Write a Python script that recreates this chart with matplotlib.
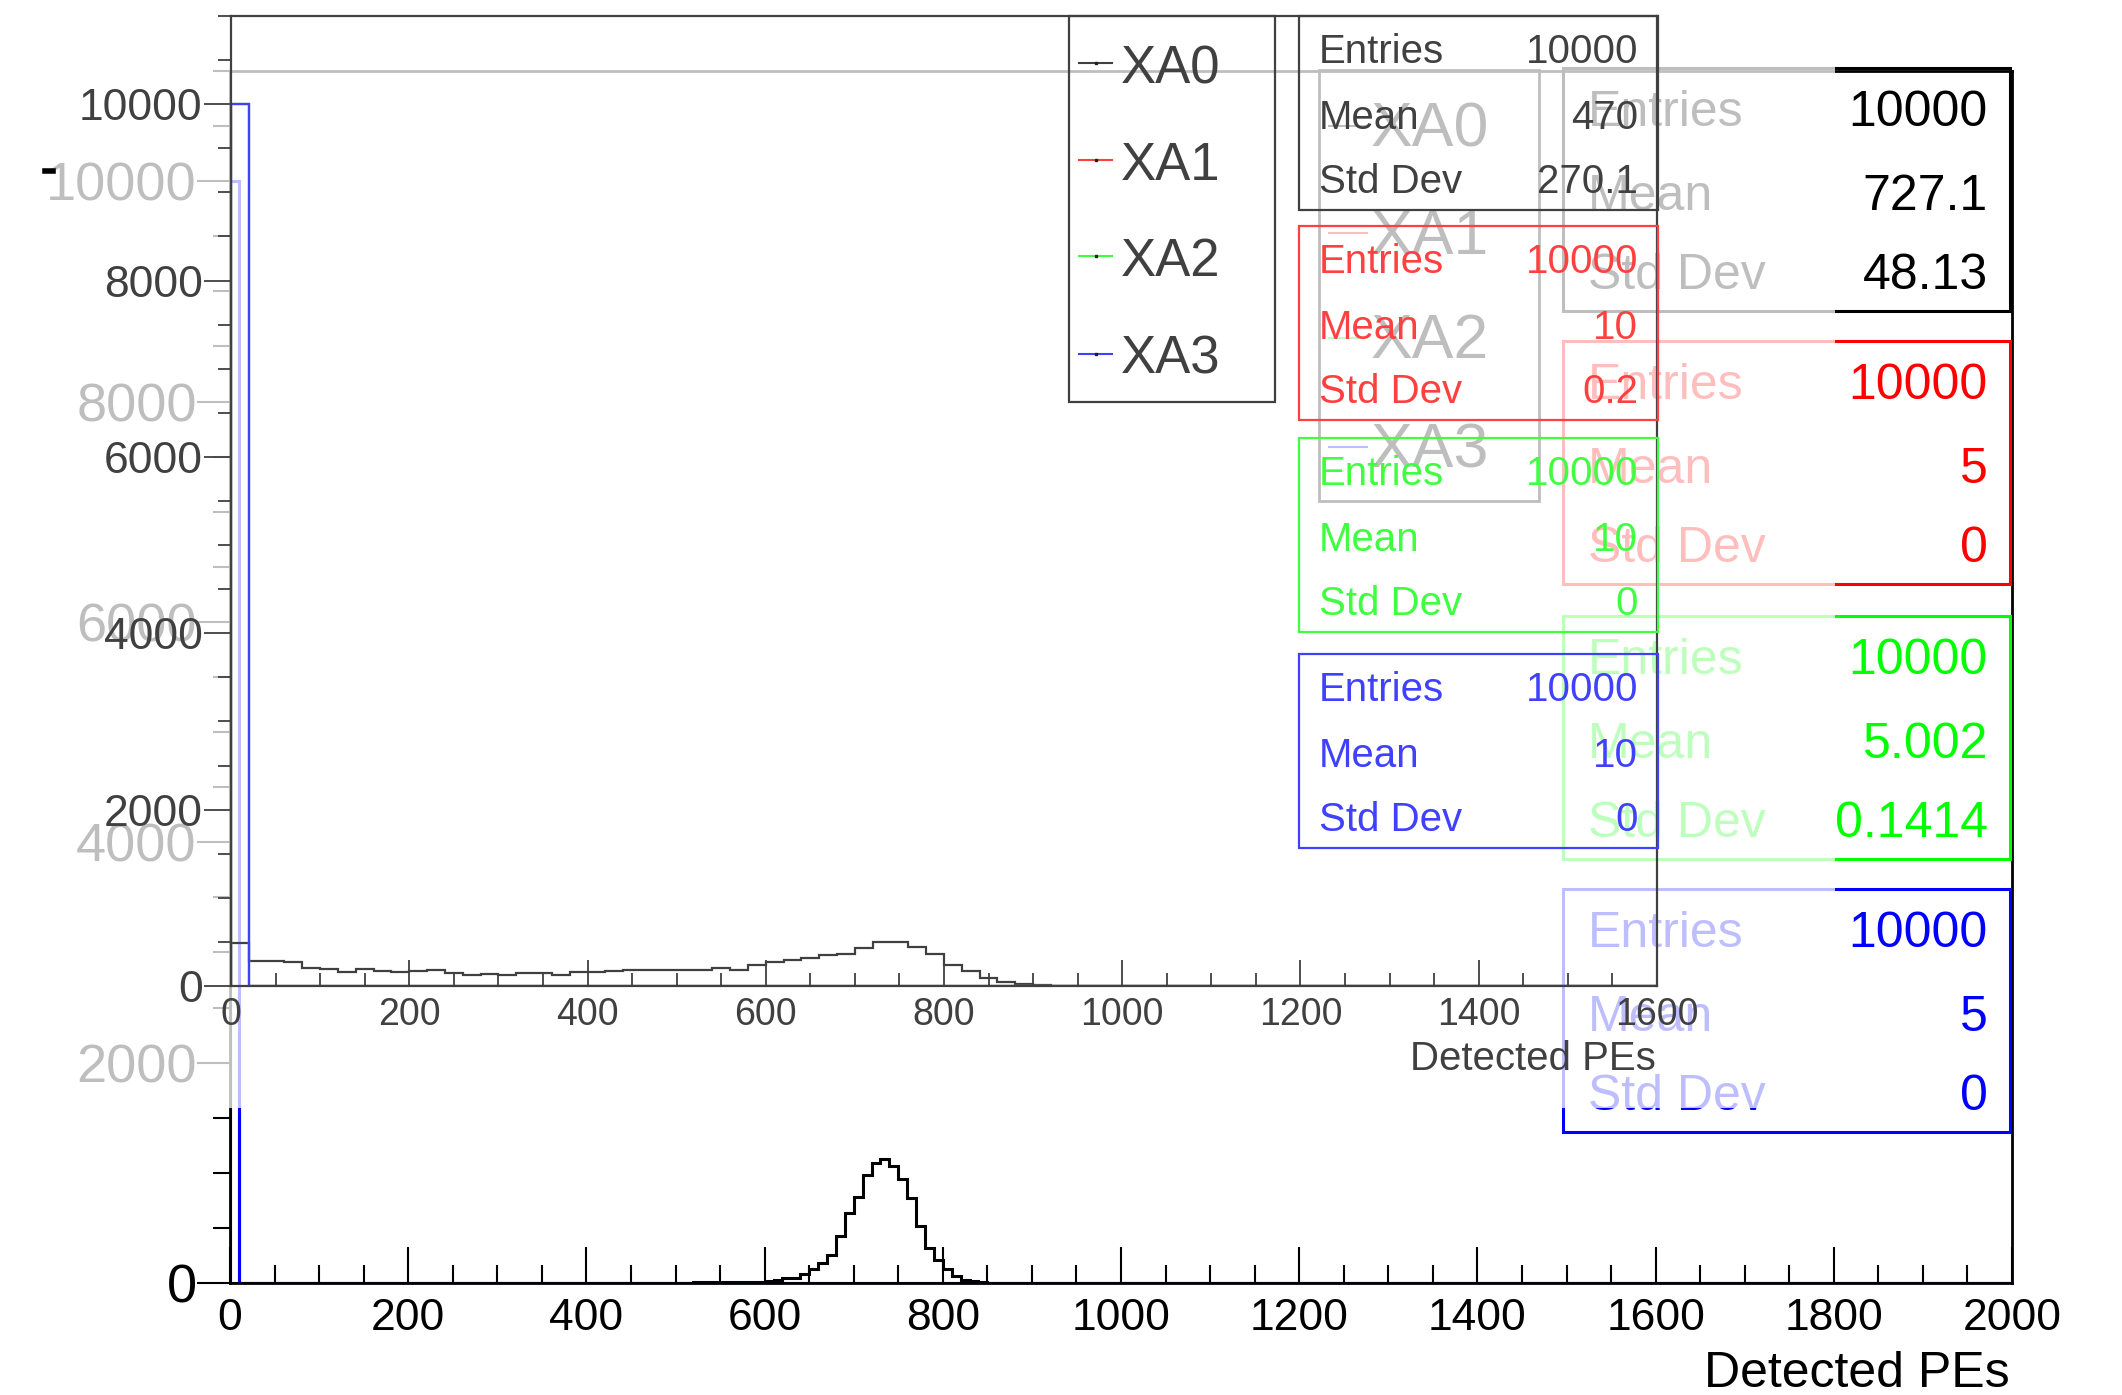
import numpy as np
import matplotlib
matplotlib.use('Agg')
import matplotlib.pyplot as plt
from matplotlib.patches import Rectangle
from matplotlib.lines import Line2D
from matplotlib.ticker import MultipleLocator

plt.rcParams['font.family'] = ['Liberation Sans', 'DejaVu Sans']

W, H = 2122, 1395

series = ['XA0', 'XA1', 'XA2', 'XA3']
bg_colors = ['#000000', '#ff0000', '#00ff00', '#0000ff']
fg_colors = ['#404040', '#ff4040', '#40ff40', '#4040ff']

# front pad: 20-unit bins over 0-1600
fg_edges = np.arange(0, 1620, 20)
fg_xa0 = [491, 283, 283, 276, 208, 197, 159, 193, 174, 155,
          170, 178, 151, 125, 132, 121, 151, 144, 125, 155,
          159, 166, 178, 181, 185, 181, 185, 208, 178, 234,
          276, 295, 318, 348, 367, 435, 503, 495, 438, 363,
          234, 170, 87, 45, 23, 8, 5, 3, 2, 1] + [0] * 30
fg_spike = [10000] + [0] * 79

# back pad: 10-unit bins over 0-2000
bg_edges = np.arange(0, 2010, 10)
bg_xa0_first_bin = 45
bg_xa0_core = [2, 2, 3, 3, 3, 4, 4, 5, 5, 6,
               6, 7, 8, 9, 10, 20, 28,
               45, 45, 85, 130, 182, 251, 424, 639, 776, 979,
               1085, 1124, 1061, 948, 773, 515, 318, 212, 130, 61,
               30, 15, 6, 3, 2, 1]
bg_spike = [10000] + [0] * 199

stat_labels = ['Entries', 'Mean', 'Std Dev']
fg_entries = ['10000', '10000', '10000', '10000']
fg_mean = ['470', '10', '10', '10']
fg_std = ['270.1', '0.2', '0', '0']
bg_entries = ['10000', '10000', '10000', '10000']
bg_mean = ['727.1', '5', '5.002', '5']
bg_std = ['48.13', '0', '0.1414', '0']

DY = 4  # text centre correction, px


def fx(x):
    return x / W


def fy(y):
    return 1 - y / H


def frect(x0, y0, x1, y1, **kw):
    return Rectangle((fx(x0), fy(y1)), (x1 - x0) / W, (y1 - y0) / H,
                     transform=fig.transFigure, **kw)


def label(x, y, s, **kw):
    fig.text(fx(x), fy(y + DY), s, va='center', **kw)


fig = plt.figure(figsize=(W / 100, H / 100), dpi=100)

# ---------------- background canvas ----------------
ax_bg = fig.add_axes([fx(230), fy(1283), (2012 - 230) / W, (1283 - 71) / H])
ax_bg.set_zorder(1)
bg_full = np.zeros(len(bg_edges) - 1)
bg_full[bg_xa0_first_bin:bg_xa0_first_bin + len(bg_xa0_core)] = bg_xa0_core
bg_hists = [bg_full, bg_spike, bg_spike, bg_spike]
for h, c in zip(bg_hists, bg_colors):
    ax_bg.stairs(h, bg_edges, color=c, lw=2.2)
ax_bg.set_xlim(0, 2000)
ax_bg.set_ylim(0, 11000)
ax_bg.xaxis.set_major_locator(MultipleLocator(200))
ax_bg.xaxis.set_minor_locator(MultipleLocator(50))
ax_bg.yaxis.set_major_locator(MultipleLocator(2000))
ax_bg.yaxis.set_minor_locator(MultipleLocator(500))
ax_bg.tick_params(axis='x', which='major', direction='in', length=26, width=1.5, labelsize=32, pad=11)
ax_bg.tick_params(axis='x', which='minor', direction='in', length=13, width=1.5)
ax_bg.tick_params(axis='y', which='major', direction='out', length=24, width=1.5, labelsize=39, pad=0)
ax_bg.tick_params(axis='y', which='minor', direction='out', length=12, width=1.5)
for s in ax_bg.spines.values():
    s.set_linewidth(2)
    s.set_color('black')
label(2010, 1370, 'Detected PEs', ha='right', fontsize=36, zorder=1.5)

# background legend
fig.add_artist(frect(1319, 70, 1539, 501, fill=False, edgecolor='black', lw=2, zorder=1.5))
for name, c, y in zip(series, bg_colors, [126, 233, 338, 447]):
    fig.add_artist(Line2D([fx(1329), fx(1367)], [fy(y), fy(y)], transform=fig.transFigure,
                          color=c, lw=1.5, zorder=1.5))
    label(1371, y, name, ha='left', fontsize=45, zorder=1.5)

# background stats boxes
for i, c in enumerate(bg_colors):
    top = [68, 341, 616, 889][i]
    fig.add_artist(frect(1563, top, 2010, top + 243, fill=False, edgecolor=c, lw=2.2, zorder=1.5))
    vals = [bg_entries[i], bg_mean[i], bg_std[i]]
    for lab, val, off in zip(stat_labels, vals, [41, 125, 204]):
        label(1588, top + off, lab, ha='left', color=c, fontsize=36, zorder=1.5)
        label(1988, top + off, val, ha='right', color=c, fontsize=36, zorder=1.5)

# ---------------- translucent front pad ----------------
fig.add_artist(frect(0, 0, 1835, 1108, facecolor='white', edgecolor='none', alpha=0.75, zorder=2))

ax_fg = fig.add_axes([fx(231), fy(986), (1657 - 231) / W, (986 - 16) / H])
ax_fg.set_zorder(3)
ax_fg.patch.set_visible(False)
fg_hists = [fg_xa0, fg_spike, fg_spike, fg_spike]
for h, c in zip(fg_hists, fg_colors):
    ax_fg.stairs(h, fg_edges, color=c, lw=1.6)
ax_fg.set_xlim(0, 1600)
ax_fg.set_ylim(0, 11000)
ax_fg.xaxis.set_major_locator(MultipleLocator(200))
ax_fg.xaxis.set_minor_locator(MultipleLocator(50))
ax_fg.yaxis.set_major_locator(MultipleLocator(2000))
ax_fg.yaxis.set_minor_locator(MultipleLocator(500))
ax_fg.tick_params(axis='both', which='both', color='#404040', labelcolor='#404040', width=1.3)
ax_fg.tick_params(axis='x', which='major', direction='in', length=19, labelsize=27, pad=8)
ax_fg.tick_params(axis='x', which='minor', direction='in', length=9.5)
ax_fg.tick_params(axis='y', which='major', direction='out', length=19.5, labelsize=32, pad=1)
ax_fg.tick_params(axis='y', which='minor', direction='out', length=9.5)
for s in ax_fg.spines.values():
    s.set_linewidth(1.6)
    s.set_color('#404040')
label(1656, 1055, 'Detected PEs', ha='right', fontsize=29, color='#404040', zorder=4)

# front legend
fig.add_artist(frect(1069, 16, 1275, 402, fill=False, edgecolor='#404040', lw=1.6, zorder=4))
for name, c, y in zip(series, fg_colors, [65, 162, 258, 356]):
    fig.add_artist(Line2D([fx(1079), fx(1112)], [fy(y - 2), fy(y - 2)], transform=fig.transFigure,
                          color=c, lw=1.5, zorder=4))
    fig.add_artist(Line2D([fx(1095.5)], [fy(y - 2)], transform=fig.transFigure, marker='s',
                          markersize=1.5, color='#202020', lw=0, zorder=4))
    label(1121, y, name, ha='left', fontsize=38, color='#404040', zorder=4)

# front stats boxes
for i, c in enumerate(fg_colors):
    top = [16, 226, 438, 654][i]
    fig.add_artist(frect(1299, top, 1658, top + 194, fill=False, edgecolor=c, lw=1.6, zorder=4))
    vals = [fg_entries[i], fg_mean[i], fg_std[i]]
    for lab, val, off in zip(stat_labels, vals, [32, 98, 162]):
        label(1319, top + off, lab, ha='left', color=c, fontsize=29, zorder=4)
        label(1638, top + off, val, ha='right', color=c, fontsize=29, zorder=4)

# stray mark at the far left
fig.add_artist(Line2D([fx(45), fx(53)], [fy(171), fy(171)], transform=fig.transFigure,
                      color='black', lw=4, zorder=5))

fig.savefig('out.png', dpi=100)
